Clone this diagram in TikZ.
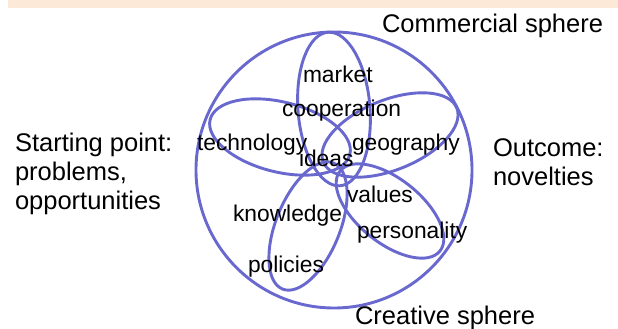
\documentclass[tikz,border=0pt]{standalone}
\usepackage{fontspec}
\setmainfont{Liberation Sans}
\usetikzlibrary{positioning}
\definecolor{petalblue}{RGB}{104,104,206}
\definecolor{bandpeach}{RGB}{253,233,215}

\begin{document}
\begin{tikzpicture}[
  x=1pt, y=1pt,
  every node/.style={inner sep=0pt, outer sep=0pt},
  sphere/.style={draw=petalblue, line width=2.9pt},
  petal/.style={draw=petalblue, line width=2.9pt},
  word/.style={anchor=base west, font=\fontsize{22.8}{27}\selectfont},
  outer/.style={anchor=base west, font=\fontsize{25.5}{29}\selectfont},
  sidetext/.style={anchor=north west, align=left, font=\fontsize{25.5}{29}\selectfont}
]
\useasboundingbox (0,0) rectangle (618,329);
\fill[bandpeach] (8,321) rectangle (618,329);

% outer circle and the five petals
\coordinate (mid) at (334,159);
\draw[sphere] (mid) circle (138);
\draw[petal, rotate around={94.5:(334,220)}] (334,220) ellipse (77 and 36);
\draw[petal, rotate around={-14:(280,192)}] (280,192) ellipse (72 and 35);
\draw[petal, rotate around={22:(390,194)}] (390,194) ellipse (72 and 35);
\draw[petal, rotate around={68:(308,103)}] (308,103) ellipse (68 and 32);
\draw[petal, rotate around={-38.7:(390,118)}] (390,118) ellipse (64 and 32);

% words inside the petals
\node[word] (market) at (303,246) {market};
\node[word] (coop) at (282,212) {cooperation};
\node[word] (tech) at (197,178) {technology};
\node[word] (geo) at (352,178) {geography};
\node[word] (ideas) at (299,162) {ideas};
\node[word] (values) at (347,126) {values};
\node[word] (know) at (233,107) {knowledge};
\node[word] (person) at (357,90) {personality};
\node[word] (policies) at (248,56) {policies};

% labels round the circle
\node[outer] (commercial) at (382,296) {Commercial sphere};
\node[outer] (creative) at (355,4) {Creative sphere};
\node[sidetext] (start) at (15,195.5) {Starting point:\\problems,\\opportunities};
\node[sidetext] (outcome) at (493,190.5) {Outcome:\\novelties};
\end{tikzpicture}
\end{document}
